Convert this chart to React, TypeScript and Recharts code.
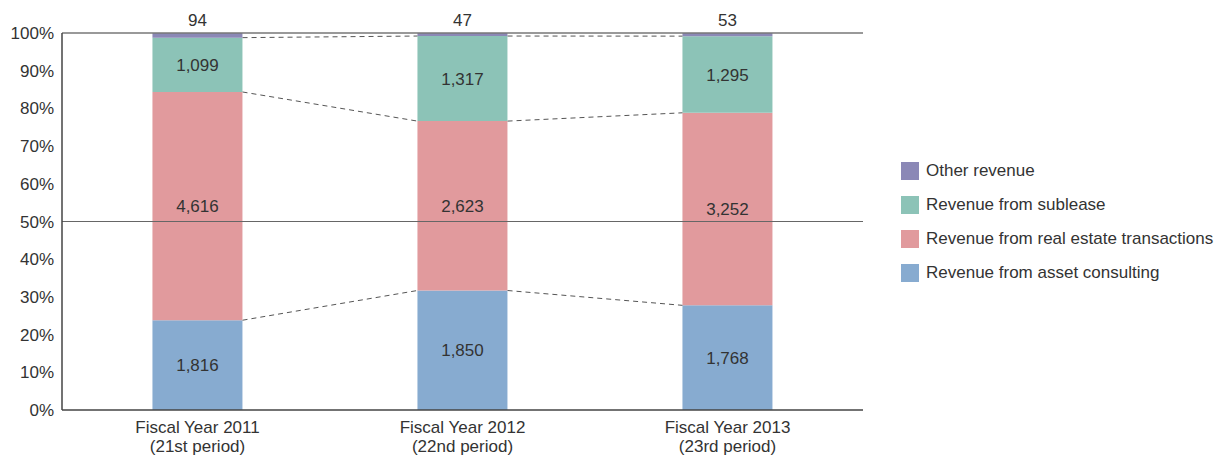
import { BarChart, Bar, XAxis, YAxis, ReferenceLine, LabelList } from 'recharts';

const categories = ['Fiscal Year 2011', 'Fiscal Year 2012', 'Fiscal Year 2013'];
const periods = ['(21st period)', '(22nd period)', '(23rd period)'];
const assetConsulting = [1816, 1850, 1768];
const realEstate = [4616, 2623, 3252];
const sublease = [1099, 1317, 1295];
const otherRevenue = [94, 47, 53];
const yTicks = [0, 0.1, 0.2, 0.3, 0.4, 0.5, 0.6, 0.7, 0.8, 0.9, 1];

const FONT = '"Liberation Sans", Arial, Helvetica, sans-serif';
const TEXT = '#333';
const FS = 17;

const series = [
  { key: 'asset', name: 'Revenue from asset consulting', color: '#87abd0' },
  { key: 'realEstate', name: 'Revenue from real estate transactions', color: '#e19a9d' },
  { key: 'sublease', name: 'Revenue from sublease', color: '#8cc3b7' },
  { key: 'other', name: 'Other revenue', color: '#8b88b6' },
];

const data = categories.map((name, i) => ({
  name,
  asset: assetConsulting[i],
  realEstate: realEstate[i],
  sublease: sublease[i],
  other: otherRevenue[i],
}));

// bar takes 34% of each band, so half a bar is 0.17 of the band
const GAP = 0.33;
const HALF = (1 - 2 * GAP) / 2;

// cumulative share at the top of each of the lower three segments
const boundaries = data.map((d) => {
  const total = d.asset + d.realEstate + d.sublease + d.other;
  return [d.asset / total, (d.asset + d.realEstate) / total, (d.asset + d.realEstate + d.sublease) / total];
});

const fmt = (v: any) => Number(v).toLocaleString('en-US');

const XTick = ({ x, y, payload }: any) => {
  const i = categories.indexOf(payload.value);
  return (
    <g transform={`translate(${x},${y})`}>
      <text textAnchor="middle" fill={TEXT} fontSize={FS} fontFamily={FONT}>
        <tspan x={0} dy={15}>{payload.value}</tspan>
        <tspan x={0} dy={19}>{periods[i]}</tspan>
      </text>
    </g>
  );
};

// segment endpoints sit on band centres; pull them in to the bar edges
const Connector = (props: any) => {
  const { x1, y1, x2, y2 } = props;
  const d = (x2 - x1) * HALF;
  return <line x1={x1 + d} y1={y1} x2={x2 - d} y2={y2} stroke="#555" strokeWidth={1} strokeDasharray="5 4" />;
};

export default function App() {
  const connectors: any[] = [];
  for (let i = 0; i < data.length - 1; i++) {
    for (let s = 0; s < 3; s++) {
      connectors.push(
        <ReferenceLine
          key={`c-${i}-${s}`}
          ifOverflow="visible"
          segment={[
            { x: categories[i], y: boundaries[i][s] },
            { x: categories[i + 1], y: boundaries[i + 1][s] },
          ]}
          shape={Connector}
        />
      );
    }
  }

  return (
    <div style={{ position: 'absolute', left: 0, top: 0, width: 1215, height: 455, fontFamily: FONT }}>
      <BarChart
        width={1215}
        height={455}
        data={data}
        stackOffset="expand"
        barCategoryGap={`${GAP * 100}%`}
        margin={{ top: 33, right: 352, bottom: 0, left: 0 }}
      >
        <XAxis
          dataKey="name"
          height={45}
          padding={{ left: 3, right: 3 }}
          tick={<XTick />}
          tickLine={false}
          tickSize={6}
          tickMargin={2}
          axisLine={{ stroke: '#444', strokeWidth: 1.5 }}
          interval={0}
        />
        <YAxis
          width={62}
          domain={[0, 1]}
          ticks={yTicks}
          tickFormatter={(v) => `${Math.round(v * 100)}%`}
          tick={{ fill: TEXT, fontSize: FS, fontFamily: FONT }}
          tickLine={false}
          tickSize={6}
          tickMargin={2}
          axisLine={{ stroke: '#444', strokeWidth: 1.5 }}
        />
        <ReferenceLine y={0.5} stroke="#666" strokeWidth={1} />
        <ReferenceLine y={1} stroke="#777" strokeWidth={1.5} />
        {series.map((s) => (
          <Bar key={s.key} dataKey={s.key} name={s.name} stackId="a" fill={s.color} isAnimationActive={false}>
            <LabelList
              dataKey={s.key}
              position={s.key === 'other' ? 'top' : 'center'}
              offset={7}
              formatter={fmt}
              fill={TEXT}
              fontSize={FS}
              fontFamily={FONT}
            />
          </Bar>
        ))}
        {connectors}
      </BarChart>
      <div style={{ position: 'absolute', left: 901, top: 162 }}>
        {[...series].reverse().map((s) => (
          <div key={s.key} style={{ display: 'flex', alignItems: 'center', height: 18, marginBottom: 16 }}>
            <div style={{ width: 18, height: 18, background: s.color, marginRight: 7 }} />
            <span style={{ fontSize: FS, color: TEXT, whiteSpace: 'nowrap' }}>{s.name}</span>
          </div>
        ))}
      </div>
    </div>
  );
}
